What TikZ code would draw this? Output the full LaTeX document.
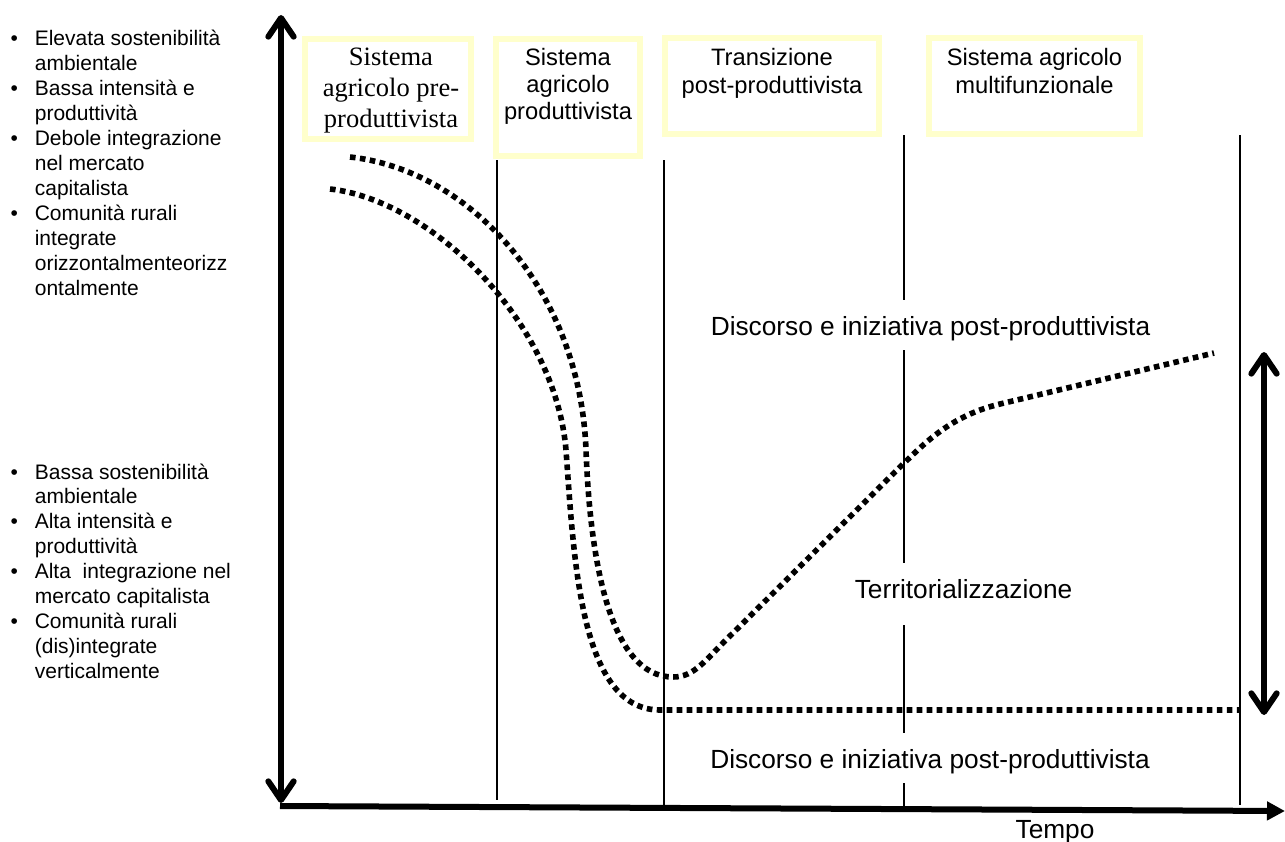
\documentclass[tikz,border=0pt]{standalone}
\usepackage{fontspec}
\setmainfont{Liberation Sans}
\newfontfamily\timesfont{Liberation Serif}
\usetikzlibrary{arrows.meta}
\definecolor{boxyellow}{RGB}{255,255,204}

\begin{document}
\begin{tikzpicture}[x=0.75pt,y=-0.75pt,
  sysbox/.style={draw=boxyellow,line width=4.5pt,inner sep=0pt},
  boxtext/.style={inner sep=0pt,anchor=base,font=\fontsize{17.8}{20.6}\selectfont},
  serifbox/.style={inner sep=0pt,anchor=base,font=\timesfont\fontsize{19.9}{23.6}\selectfont},
  caption/.style={fill=white,inner xsep=2pt,inner ysep=6.75pt,text height=19.5pt,text depth=4.5pt,anchor=base,font=\fontsize{19.7}{23}\selectfont},
  listtext/.style={inner sep=0pt,anchor=base west,font=\fontsize{15.75}{18.7}\selectfont},
  phase/.style={line width=1.5pt},
  axis/.style={line width=4.5pt},
  trend/.style={line width=4.2pt,dash pattern=on 4.2pt off 3.3pt},
  openhead/.tip={Straight Barb[length=14pt,width=19pt,round]},
]
\useasboundingbox (0,0) rectangle (1285,842);

% left-hand descriptions of the two extremes of the scale
\node[listtext] (hi) at (10.3,46) {\begin{tabular}[t]{@{}p{18.2pt}@{}l@{}}
• & Elevata sostenibilità\\
  & ambientale\\
• & Bassa intensità e\\
  & produttività\\
• & Debole integrazione\\
  & nel mercato\\
  & capitalista\\
• & Comunità rurali\\
  & integrate\\
  & orizzontalmenteorizz\\
  & ontalmente
\end{tabular}};
\node[listtext] (lo) at (10.3,479) {\begin{tabular}[t]{@{}p{18.2pt}@{}l@{}}
• & Bassa sostenibilità\\
  & ambientale\\
• & Alta intensità e\\
  & produttività\\
• & Alta\ \ integrazione nel\\
  & mercato capitalista\\
• & Comunità rurali\\
  & (dis)integrate\\
  & verticalmente
\end{tabular}};

% phase boxes
\node[sysbox,minimum width=124.5pt,minimum height=75pt] (b1) at (388,89) {};
\node[sysbox,minimum width=108pt,minimum height=87.75pt] (b2) at (568,97.5) {};
\node[sysbox,minimum width=160.5pt,minimum height=72pt] (b3) at (772,86) {};
\node[sysbox,minimum width=158.25pt,minimum height=72pt] (b4) at (1034.5,86) {};

\node[serifbox] (t1) at (391,65) {\begin{tabular}[t]{@{}c@{}}Sistema\\ agricolo pre-\\ produttivista\end{tabular}};
\node[boxtext] (t2) at (568,65) {\begin{tabular}[t]{@{}c@{}}Sistema\\ agricolo\\ produttivista\end{tabular}};
\node[boxtext] (t3) at (772,66) {\begin{tabular}[t]{@{}c@{}}Transizione\\ post-produttivista\end{tabular}};
\node[boxtext] (t4) at (1034.5,66) {\begin{tabular}[t]{@{}c@{}}Sistema agricolo\\ multifunzionale\end{tabular}};

% phase boundaries
\draw[phase] (497,160) -- (497,800);
\draw[phase] (664,160) -- (664,806);
\draw[phase] (904,135) -- (904,806);
\draw[phase] (1240,135) -- (1240,805);

% trajectories
\draw[trend] (350,157) .. controls (470,170) and (580,290) .. (586,450)
  .. controls (590,560) and (610,677) .. (673,677)
  .. controls (695,677) and (705,660) .. (733,633)
  -- (900,467)
  .. controls (925,443) and (950,416) .. (1000,404)
  -- (1214,353);
\draw[trend] (330,189) .. controls (430,200) and (555,320) .. (566,450)
  .. controls (574,560) and (580,710) .. (660,710)
  -- (1240,710);

% captions
\node[caption] (d1) at (930.5,335) {Discorso e iniziativa post-produttivista};
\node[caption,text depth=13.5pt] (tr) at (963.5,598) {Territorializzazione};
\node[caption] (d2) at (930,768) {Discorso e iniziativa post-produttivista};

% axes
\coordinate (yt) at (281,15);
\coordinate (yb) at (281,803);
\coordinate (xo) at (280,806);
\coordinate (xe) at (1285,811);
\draw[axis,openhead-openhead] (yt) -- (yb);
\draw[axis,-{Triangle[length=13.5pt,width=13.5pt]}] (xo) -- (xe);
\node[anchor=base,inner sep=0pt,font=\fontsize{19.7}{23}\selectfont] (tempo) at (1055,838) {Tempo};

% range of territorialisation
\coordinate (rt) at (1264,352);
\coordinate (rb) at (1264,715);
\draw[axis,openhead-openhead] (rt) -- (rb);
\end{tikzpicture}
\end{document}
